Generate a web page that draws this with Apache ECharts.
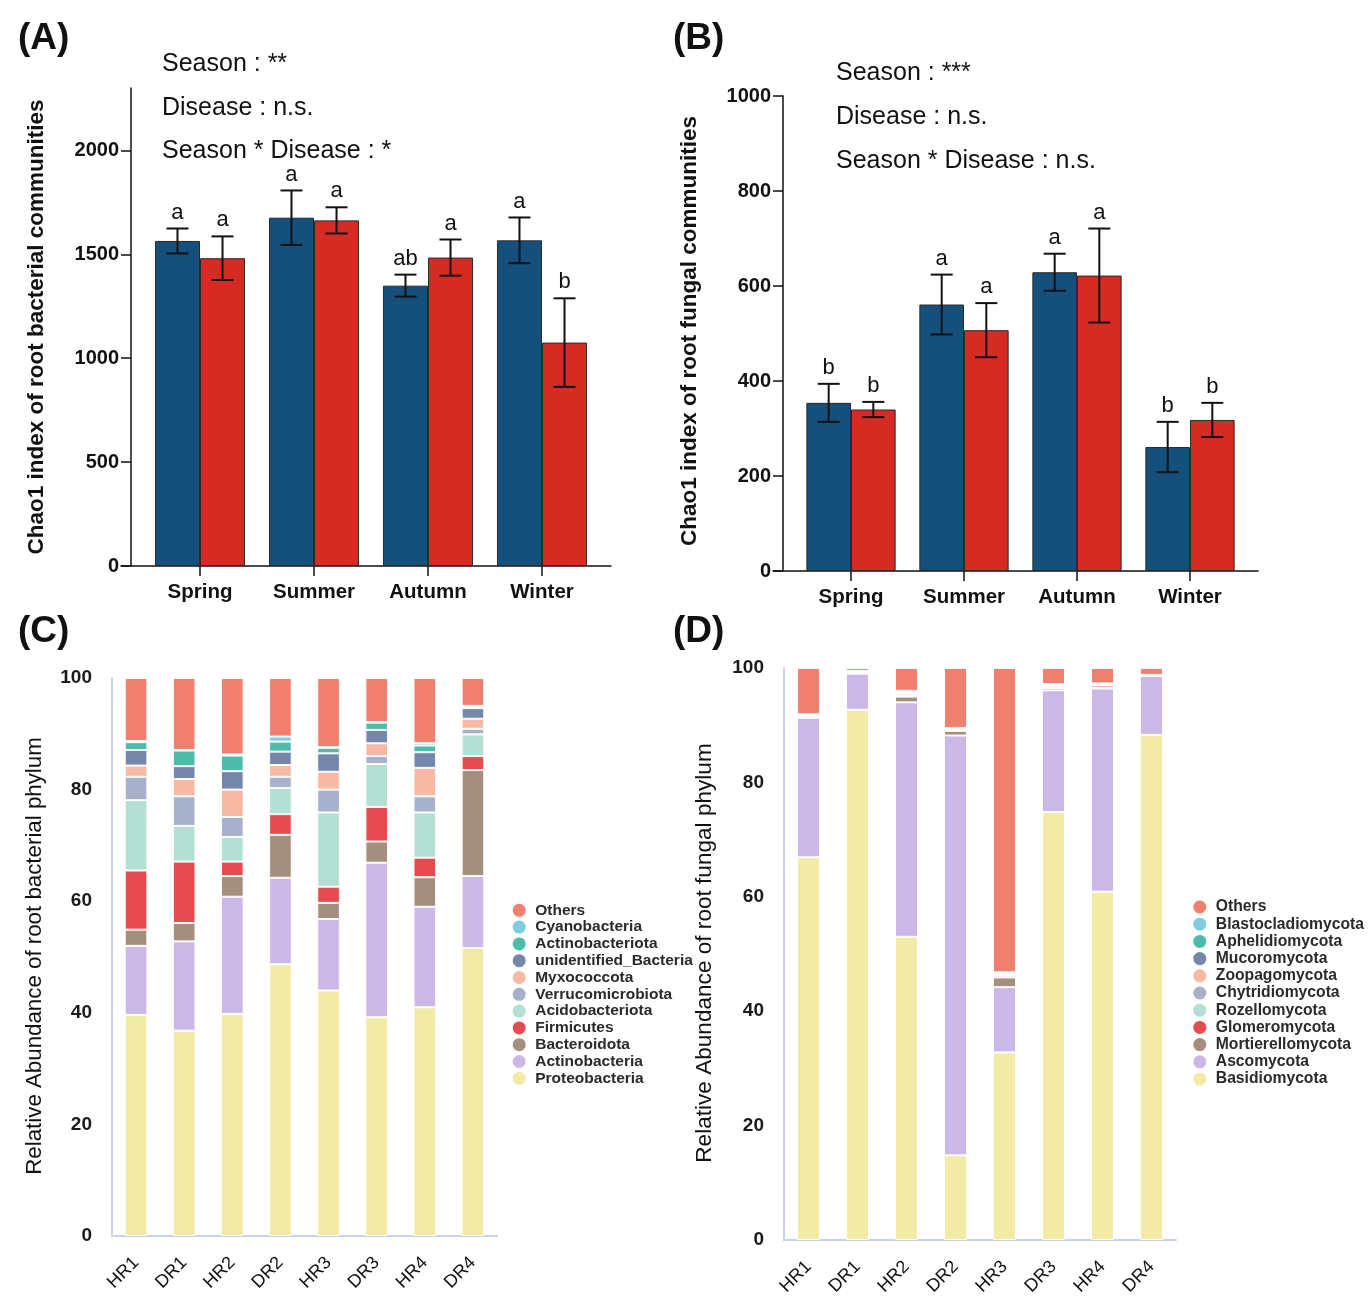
<!DOCTYPE html>
<html>
<head>
  <meta charset="utf-8">
  <title>Chao1 and phylum composition</title>
  <script src="https://cdn.jsdelivr.net/npm/echarts@6/dist/echarts.min.js"></script>
  <style>
    html, body { margin: 0; padding: 0; background: #fff; }
  </style>
</head>
<body>
  <div id="main" style="width:1370px;height:1311px;"></div>
  <script type="text/javascript">
    var FONT = "'Liberation Sans', Arial, sans-serif";

    // panel A / B : Chao1 index, healthy (blue) vs diseased (red)
    var seasons = ['Spring', 'Summer', 'Autumn', 'Winter'];

    var bactHealthy = [1564, 1676, 1349, 1567];
    var bactHealthyErr = [60, 131, 53, 110];
    var bactHealthyLetters = ['a', 'a', 'ab', 'a'];
    var bactDiseased = [1481, 1663, 1484, 1075];
    var bactDiseasedErr = [105, 63, 87, 213];
    var bactDiseasedLetters = ['a', 'a', 'a', 'b'];

    var fungHealthy = [354, 561, 629, 261];
    var fungHealthyErr = [40, 63, 39, 53];
    var fungHealthyLetters = ['b', 'a', 'a', 'b'];
    var fungDiseased = [340, 507, 622, 318];
    var fungDiseasedErr = [16, 57, 99, 36];
    var fungDiseasedLetters = ['b', 'a', 'a', 'b'];

    var bactTicks = [0, 500, 1000, 1500, 2000];
    var fungTicks = [0, 200, 400, 600, 800, 1000];

    // panel C / D : relative abundance (%)
    var samples = ['HR1', 'DR1', 'HR2', 'DR2', 'HR3', 'DR3', 'HR4', 'DR4'];

    // bottom to top
    var bactPhyla = ['Proteobacteria', 'Actinobacteria', 'Bacteroidota', 'Firmicutes', 'Acidobacteriota',
      'Verrucomicrobiota', 'Myxococcota', 'unidentified_Bacteria', 'Actinobacteriota', 'Cyanobacteria', 'Others'];
    var bactValues = [
      [39.6, 36.8, 39.8, 48.7, 44.0, 39.2, 41.0, 51.6],
      [12.4, 16.0, 21.0, 15.5, 12.8, 27.7, 18.0, 12.9],
      [2.9, 3.3, 3.7, 7.7, 2.9, 3.8, 5.3, 19.0],
      [10.6, 11.0, 2.6, 3.7, 2.9, 6.2, 3.5, 2.5],
      [12.6, 6.4, 4.4, 4.7, 13.3, 7.7, 8.1, 3.9],
      [4.2, 5.3, 3.6, 2.0, 4.1, 1.4, 2.9, 1.0],
      [2.0, 3.1, 4.9, 2.1, 3.2, 2.3, 5.1, 1.8],
      [2.8, 2.3, 3.3, 2.4, 3.3, 2.4, 2.8, 1.9],
      [1.4, 2.8, 2.8, 1.8, 1.0, 1.3, 1.2, 0.2],
      [0.2, 0.1, 0.2, 0.9, 0.1, 0.1, 0.4, 0.2],
      [11.3, 12.9, 13.7, 10.5, 12.4, 7.9, 11.7, 5.0]
    ];

    var fungPhyla = ['Basidiomycota', 'Ascomycota', 'Mortierellomycota', 'Glomeromycota', 'Rozellomycota',
      'Chytridiomycota', 'Zoopagomycota', 'Mucoromycota', 'Aphelidiomycota', 'Blastocladiomycota', 'Others '];
    var fungValues = [
      [66.9, 92.7, 53.0, 14.8, 32.8, 74.8, 60.9, 88.3],
      [24.4, 6.3, 41.0, 73.4, 11.4, 21.3, 35.5, 10.3],
      [0.2, 0.2, 1.0, 0.8, 1.7, 0.4, 0.2, 0.1],
      [0.1, 0.1, 0.1, 0.1, 0.3, 0.1, 0.4, 0.03],
      [0.1, 0.1, 0.4, 0.1, 0.2, 0.2, 0.1, 0.03],
      [0.05, 0.03, 0.1, 0.1, 0.1, 0.2, 0.05, 0.01],
      [0.05, 0.03, 0.1, 0.1, 0.1, 0.1, 0.05, 0.01],
      [0.05, 0.02, 0.1, 0.05, 0.1, 0.05, 0.05, 0.01],
      [0.03, 0.01, 0.1, 0.03, 0.05, 0.03, 0.03, 0.005],
      [0.02, 0.01, 0.1, 0.02, 0.05, 0.02, 0.02, 0.005],
      [8.1, 0.5, 4.0, 10.5, 53.2, 2.8, 2.7, 1.2]
    ];

    var phylumColors = ['#f1eba6', '#cbb8e6', '#a48f7e', '#e84b4f', '#b3dfd4',
      '#a8b1cc', '#f7b8a4', '#7686ab', '#4dbcaa', '#80cde1', '#ef8070'];

    var BLUE = '#15507c';
    var RED = '#d52b22';

    var myChart = echarts.init(document.getElementById('main'), null, { renderer: 'canvas' });

    function errorSeries(means, errs, letters, sign, axisIdx) {
      return {
        type: 'custom',
        xAxisIndex: axisIdx,
        yAxisIndex: axisIdx,
        z: 5,
        data: means.map(function (m, i) { return [i, m, errs[i]]; }),
        renderItem: function (params, api) {
          var i = api.value(0), m = api.value(1), e = api.value(2);
          var band = api.size([1, 0])[0];
          var bw = band * 0.79 / 2;
          var x = api.coord([i, m])[0] + sign * bw / 2;
          var top = api.coord([i, m + e])[1];
          var bot = api.coord([i, m - e])[1];
          var half = 11;
          var ls = { stroke: '#111', lineWidth: 2 };
          return {
            type: 'group',
            children: [
              { type: 'line', shape: { x1: x, y1: top, x2: x, y2: bot }, style: ls },
              { type: 'line', shape: { x1: x - half, y1: top, x2: x + half, y2: top }, style: ls },
              { type: 'line', shape: { x1: x - half, y1: bot, x2: x + half, y2: bot }, style: ls },
              {
                type: 'text', x: x, y: top - 5,
                style: {
                  text: letters[params.dataIndex], fill: '#111',
                  font: '22px ' + FONT, textAlign: 'center', textVerticalAlign: 'bottom'
                }
              }
            ]
          };
        }
      };
    }

    function barSeries(values, color, axisIdx) {
      return {
        type: 'bar',
        xAxisIndex: axisIdx,
        yAxisIndex: axisIdx,
        data: values,
        barGap: '0%',
        barCategoryGap: '21%',
        itemStyle: { color: color, borderColor: '#2a2a2a', borderWidth: 1 }
      };
    }

    function stackSeries(names, values, stack, axisIdx) {
      return names.map(function (n, k) {
        return {
          name: n,
          type: 'bar',
          stack: stack,
          xAxisIndex: axisIdx,
          yAxisIndex: axisIdx,
          barWidth: '47%',
          data: values[k],
          itemStyle: { color: phylumColors[k], borderColor: 'rgba(255,255,255,0.95)', borderWidth: 1 }
        };
      });
    }

    var blackLine = { show: true, lineStyle: { color: '#111', width: 1.5 } };
    var paleLine = { show: true, lineStyle: { color: '#c9d3e8', width: 2 } };

    function plain(v) { return String(v); }

    function chaoY(max, ticks) {
      return {
        type: 'value', min: 0, max: max, offset: 12,
        axisLine: blackLine,
        axisTick: { show: true, length: 10, customValues: ticks, lineStyle: { color: '#111', width: 1.5 } },
        axisLabel: { customValues: ticks, formatter: plain, fontFamily: FONT, fontSize: 20, fontWeight: 'bold', color: '#111', margin: 12 },
        splitLine: { show: false }
      };
    }

    function chaoX() {
      return {
        type: 'category', data: seasons,
        axisLine: { show: false },
        axisTick: { show: true, alignWithLabel: true, length: 10, lineStyle: { color: '#111', width: 1.5 } },
        axisLabel: { fontFamily: FONT, fontSize: 20.5, fontWeight: 'bold', color: '#111', margin: 16 }
      };
    }

    function frameX(idx) {
      return { type: 'value', gridIndex: idx, min: 0, max: 1, axisLine: blackLine,
        axisTick: { show: false }, axisLabel: { show: false }, splitLine: { show: false } };
    }
    function frameY(idx) {
      return { type: 'value', gridIndex: idx, min: 0, max: 1, show: false };
    }

    function abundX(idx) {
      return {
        type: 'category', gridIndex: idx, data: samples,
        axisLine: paleLine,
        axisTick: { show: false },
        axisLabel: { rotate: 45, fontFamily: FONT, fontSize: 18, color: '#111', margin: 24 }
      };
    }
    function abundY(idx) {
      return {
        type: 'value', gridIndex: idx, min: 0, max: 100, interval: 20,
        axisLine: paleLine,
        axisTick: { show: false },
        axisLabel: { fontFamily: FONT, fontSize: 19, fontWeight: 'bold', color: '#1a1a1a', margin: 20 },
        splitLine: { show: false }
      };
    }

    function txt(text, x, y, size, weight, align, rot) {
      return {
        type: 'text', x: x, y: y, rotation: rot || 0,
        style: {
          text: text, fill: '#111', font: (weight || 'normal') + ' ' + size + 'px ' + FONT,
          textAlign: align || 'left', textVerticalAlign: 'middle'
        }
      };
    }

    var legendText = { fontFamily: FONT, fontSize: 15.5, fontWeight: 'bold', color: '#2a2a2a' };

    var option = {
      animation: false,
      backgroundColor: '#fff',
      grid: [
        { left: 143, top: 88, width: 456, height: 478 },     // A data
        { left: 121, top: 88, width: 490, height: 478 },     // A frame
        { left: 794.5, top: 96, width: 452, height: 475 },   // B data
        { left: 773, top: 96, width: 485, height: 475 },     // B frame
        { left: 112, top: 678, width: 385, height: 558 },    // C
        { left: 784, top: 668, width: 392, height: 572 }     // D
      ],
      xAxis: [
        Object.assign(chaoX(), { gridIndex: 0 }),
        frameX(1),
        Object.assign(chaoX(), { gridIndex: 2 }),
        frameX(3),
        abundX(4),
        abundX(5)
      ],
      yAxis: [
        Object.assign(chaoY(2300, bactTicks), { gridIndex: 0 }),
        frameY(1),
        Object.assign(chaoY(1000, fungTicks), { gridIndex: 2, offset: 11.5 }),
        frameY(3),
        abundY(4),
        abundY(5)
      ],
      legend: [
        {
          orient: 'vertical', left: 505.7, top: 896.8,
          icon: 'circle', itemWidth: 22, itemHeight: 15, itemGap: -0.2,
          data: bactPhyla.slice().reverse(), textStyle: legendText, selectedMode: false
        },
        {
          orient: 'vertical', left: 1186.3, top: 893.5,
          icon: 'circle', itemWidth: 22, itemHeight: 15, itemGap: 0.2,
          data: fungPhyla.slice().reverse(), textStyle: Object.assign({}, legendText, { fontSize: 15.7 }),
          selectedMode: false,
          formatter: function (n) { return n.trim(); }
        }
      ],
      series: [
        barSeries(bactHealthy, BLUE, 0),
        barSeries(bactDiseased, RED, 0),
        errorSeries(bactHealthy, bactHealthyErr, bactHealthyLetters, -1, 0),
        errorSeries(bactDiseased, bactDiseasedErr, bactDiseasedLetters, 1, 0),
        barSeries(fungHealthy, BLUE, 2),
        barSeries(fungDiseased, RED, 2),
        errorSeries(fungHealthy, fungHealthyErr, fungHealthyLetters, -1, 2),
        errorSeries(fungDiseased, fungDiseasedErr, fungDiseasedLetters, 1, 2)
      ].concat(stackSeries(bactPhyla, bactValues, 'bact', 4))
        .concat(stackSeries(fungPhyla, fungValues, 'fung', 5)),
      graphic: [
        txt('(A)', 18, 39, 37, 'bold'),
        txt('(B)', 673, 39, 37, 'bold'),
        txt('(C)', 18, 632, 37, 'bold'),
        txt('(D)', 673, 632, 37, 'bold'),
        txt('Season : **', 162, 64, 25),
        txt('Disease : n.s.', 162, 108, 25),
        txt('Season * Disease : *', 162, 151, 25),
        txt('Season : ***', 836, 73, 25),
        txt('Disease : n.s.', 836, 117, 25),
        txt('Season * Disease : n.s.', 836, 161, 25),
        txt('Chao1 index of root bacterial communities', 37, 327, 22.5, 'bold', 'center', Math.PI / 2),
        txt('Chao1 index of root fungal communities', 690, 331, 22.5, 'bold', 'center', Math.PI / 2),
        txt('Relative Abundance of root bacterial phylum', 35, 956, 22.3, 'normal', 'center', Math.PI / 2),
        txt('Relative Abundance of root fungal phylum', 705, 953, 22.6, 'normal', 'center', Math.PI / 2)
      ]
    };

    myChart.setOption(option);
  </script>
</body>
</html>
